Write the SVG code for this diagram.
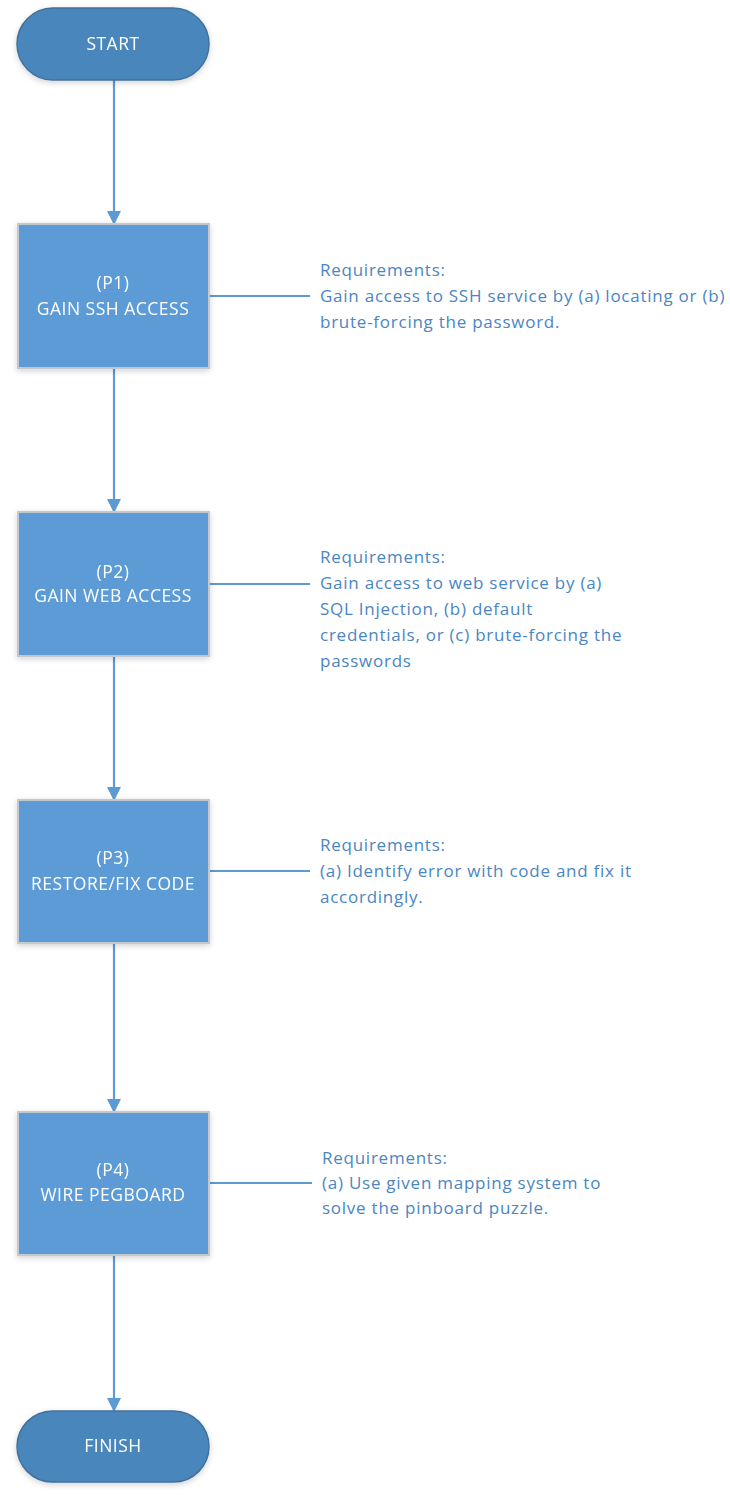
<svg xmlns="http://www.w3.org/2000/svg" width="730" height="1495" viewBox="0 0 730 1495">
  <style>
    .term { fill: #4a86bb; stroke: #41719c; stroke-width: 1.5; }
    .proc { fill: #5b9bd5; stroke: #c4c9cf; stroke-width: 2; }
    .label { font-family: "Open Sans", "Liberation Sans", sans-serif; font-size: 17.5px; letter-spacing: 0.5px; fill: #ffffff; text-anchor: middle; }
    .note { font-family: "Open Sans", "Liberation Sans", sans-serif; font-size: 17px; letter-spacing: 0.75px; fill: #4a86c2; }
    .wire { stroke: #5b9bd5; stroke-width: 2.2; fill: none; }
  </style>
  <defs>
    <marker id="arrow" markerWidth="14" markerHeight="14" refX="13" refY="7" orient="auto" markerUnits="userSpaceOnUse">
      <path d="M0,0 L14,7 L0,14 Z" fill="#5b9bd5"/>
    </marker>
    <filter id="shadow" x="-20%" y="-20%" width="140%" height="140%">
      <feGaussianBlur in="SourceAlpha" stdDeviation="3"/>
      <feOffset dx="0" dy="2"/>
      <feComponentTransfer><feFuncA type="linear" slope="0.18"/></feComponentTransfer>
      <feMerge><feMergeNode/><feMergeNode in="SourceGraphic"/></feMerge>
    </filter>
  </defs>
  <rect width="730" height="1495" fill="#ffffff"/>

  <g id="connectors">
    <line class="wire" x1="114" y1="80" x2="114" y2="224" marker-end="url(#arrow)"/>
    <line class="wire" x1="114" y1="368" x2="114" y2="512" marker-end="url(#arrow)"/>
    <line class="wire" x1="114" y1="656" x2="114" y2="800" marker-end="url(#arrow)"/>
    <line class="wire" x1="114" y1="943" x2="114" y2="1112" marker-end="url(#arrow)"/>
    <line class="wire" x1="114" y1="1255" x2="114" y2="1411" marker-end="url(#arrow)"/>
    <line class="wire" x1="209" y1="296" x2="310" y2="296"/>
    <line class="wire" x1="209" y1="584" x2="310" y2="584"/>
    <line class="wire" x1="209" y1="871" x2="310" y2="871"/>
    <line class="wire" x1="209" y1="1183" x2="312" y2="1183"/>
  </g>

  <g id="start" filter="url(#shadow)">
    <rect class="term" x="17" y="8" width="192" height="72" rx="36"/>
    <text class="label" x="113" y="50">START</text>
  </g>

  <g id="p1" filter="url(#shadow)">
    <rect class="proc" x="18" y="224" width="191" height="144"/>
    <text class="label" x="113" y="289">(P1)</text>
    <text class="label" x="113" y="315">GAIN SSH ACCESS</text>
  </g>
  <g id="p1-note">
    <text class="note" x="320" y="276">Requirements:</text>
    <text class="note" x="320" y="302">Gain access to SSH service by (a) locating or (b)</text>
    <text class="note" x="320" y="328">brute-forcing the password.</text>
  </g>

  <g id="p2" filter="url(#shadow)">
    <rect class="proc" x="18" y="512" width="191" height="144"/>
    <text class="label" x="113" y="578">(P2)</text>
    <text class="label" x="113" y="602">GAIN WEB ACCESS</text>
  </g>
  <g id="p2-note">
    <text class="note" x="320" y="563">Requirements:</text>
    <text class="note" x="320" y="589">Gain access to web service by (a)</text>
    <text class="note" x="320" y="615">SQL Injection, (b) default</text>
    <text class="note" x="320" y="641">credentials, or (c) brute-forcing the</text>
    <text class="note" x="320" y="667">passwords</text>
  </g>

  <g id="p3" filter="url(#shadow)">
    <rect class="proc" x="18" y="800" width="191" height="143"/>
    <text class="label" x="113" y="864">(P3)</text>
    <text class="label" x="113" y="890">RESTORE/FIX CODE</text>
  </g>
  <g id="p3-note">
    <text class="note" x="320" y="851">Requirements:</text>
    <text class="note" x="320" y="877">(a) Identify error with code and fix it</text>
    <text class="note" x="320" y="903">accordingly.</text>
  </g>

  <g id="p4" filter="url(#shadow)">
    <rect class="proc" x="18" y="1112" width="191" height="143"/>
    <text class="label" x="113" y="1176">(P4)</text>
    <text class="label" x="113" y="1201">WIRE PEGBOARD</text>
  </g>
  <g id="p4-note">
    <text class="note" x="322" y="1164">Requirements:</text>
    <text class="note" x="322" y="1189">(a) Use given mapping system to</text>
    <text class="note" x="322" y="1214">solve the pinboard puzzle.</text>
  </g>

  <g id="finish" filter="url(#shadow)">
    <rect class="term" x="17" y="1411" width="192" height="71" rx="35.5"/>
    <text class="label" x="113" y="1452">FINISH</text>
  </g>
</svg>
